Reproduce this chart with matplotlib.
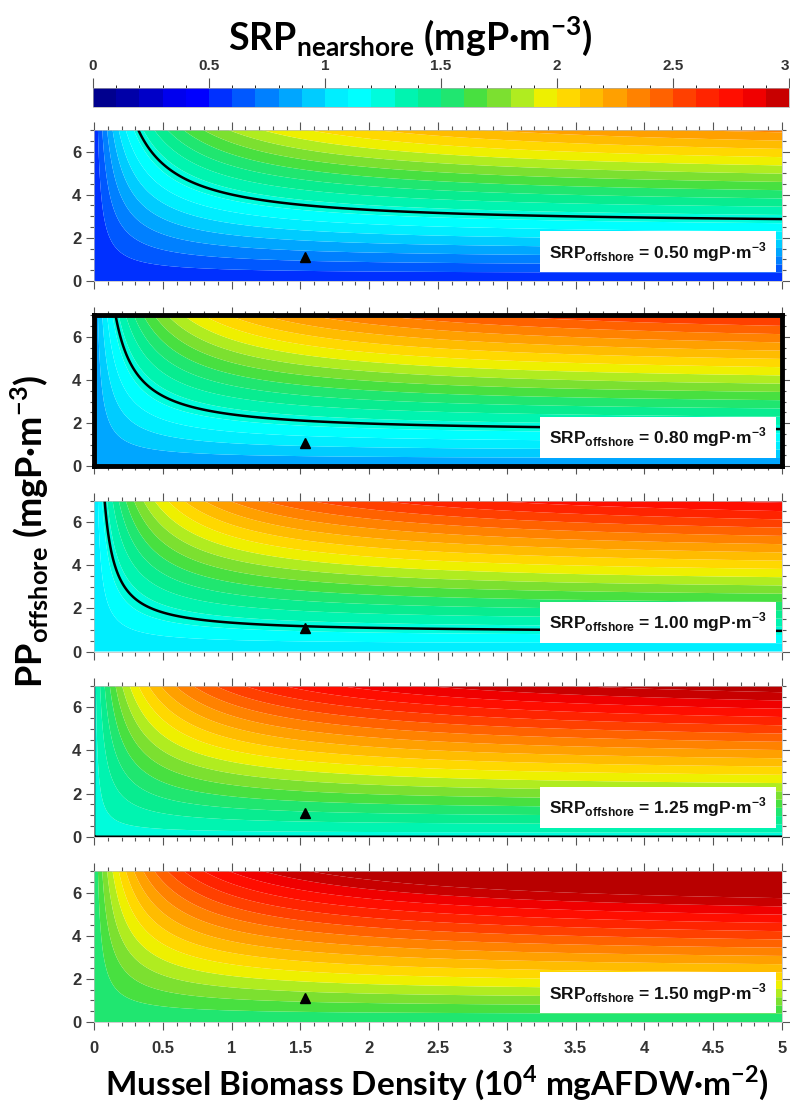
import numpy as np
import matplotlib
matplotlib.use("Agg")
import matplotlib.pyplot as plt
from matplotlib.colors import ListedColormap, BoundaryNorm
from matplotlib.ticker import MultipleLocator, FuncFormatter

plt.rcParams['font.family'] = ['Liberation Sans', 'DejaVu Sans']

# offshore SRP for each scenario panel (mgP m-3)
srp_offshore = [0.50, 0.80, 1.00, 1.25, 1.50]
highlight_panel = 1
# nearshore SRP contour drawn in black
srp_threshold = 1.25

# response surface parameters: SRP gain from mussel recycling of PP
recycle_frac = 0.29      # fraction of offshore PP returned as SRP at saturating biomass
half_sat_biomass = 0.55  # 10^4 mgAFDW m-2

# present-day site conditions
site_biomass = 1.53
site_pp = 1.1

# 0.1 mgP m-3 colour bands, 0 -> 3
band_colors = [
    '#00008E', '#0000A8', '#0000C8', '#0000EE', '#0000FF',
    '#0030FF', '#0058FF', '#0080FF', '#00A6FF', '#00CCFF',
    '#00EEFF', '#00FFFF', '#00FCDC', '#00F4B0', '#08EC90',
    '#20E670', '#48E040', '#7CE030', '#B0EC20', '#EEF000',
    '#FFD800', '#FFBC00', '#FFA000', '#FF8200', '#FF6200',
    '#FF4000', '#FF2400', '#FF0E00', '#F00000', '#C80000',
]
levels = np.round(np.arange(0, 3.01, 0.1), 2)
cbar_ticks = [0, 0.5, 1, 1.5, 2, 2.5, 3]
cbar_ticklabels = ['0', '0.5', '1', '1.5', '2', '2.5', '3']

biomass = np.linspace(0, 5, 401)
pp = np.linspace(0, 7, 281)
B, P = np.meshgrid(biomass, pp)


def srp_nearshore(s_off):
    return s_off + recycle_frac * P * B / (B + half_sat_biomass)


cmap = ListedColormap(band_colors)
cmap.set_over('#B80000')

W, H = 790, 1106
fig = plt.figure(figsize=(W / 100, H / 100), dpi=100)

tick_col = '#555555'
lab_col = '#333333'

ax_left, ax_w, ax_h = 94, 688, 151
first_top, pitch = 130, 185.25

for i, s_off in enumerate(srp_offshore):
    top = first_top + pitch * i
    ax = fig.add_axes([ax_left / W, 1 - (top + ax_h) / H, ax_w / W, ax_h / H])
    Z = srp_nearshore(s_off)
    ax.contourf(B, P, Z, levels=levels, cmap=cmap, extend='max', antialiased=True)
    ax.contour(B, P, Z, levels=[srp_threshold], colors='black', linewidths=1.8)
    ax.plot(site_biomass, site_pp, marker='^', color='black', markersize=6.5,
            linestyle='none')

    ax.set_xlim(0, 5)
    ax.set_ylim(0, 7)
    ax.xaxis.set_major_locator(MultipleLocator(0.5))
    ax.xaxis.set_minor_locator(MultipleLocator(0.1))
    ax.yaxis.set_major_locator(MultipleLocator(2))
    ax.yaxis.set_minor_locator(MultipleLocator(0.5))
    ax.xaxis.set_major_formatter(FuncFormatter(lambda v, _: f'{v:g}'))
    ax.tick_params(which='both', direction='out', top=True, right=True,
                   color=tick_col, width=0.8)
    ax.tick_params(which='major', length=6)
    ax.tick_params(which='minor', length=3)
    ax.tick_params(axis='y', labelsize=12, labelcolor=lab_col, pad=3)
    ax.tick_params(axis='x', labelsize=12, labelcolor=lab_col, pad=8)
    for lab in ax.get_xticklabels() + ax.get_yticklabels():
        lab.set_fontweight('bold')
    if i < len(srp_offshore) - 1:
        ax.tick_params(axis='x', labelbottom=False)

    if i == highlight_panel:
        for sp in ax.spines.values():
            sp.set_linewidth(3.5)
            sp.set_color('black')
    else:
        for sp in ax.spines.values():
            sp.set_linewidth(0.5)
            sp.set_color('#bbbbbb')

    ax.text(0.978, 0.115,
            r'SRP$_{\mathregular{offshore}}$ = ' + f'{s_off:.2f}' + r' mgP·m$^{\mathregular{-3}}$',
            transform=ax.transAxes, ha='right', va='bottom', fontsize=12.5,
            fontweight='bold', color='#111111',
            bbox=dict(boxstyle='square,pad=0.5', fc='white', ec='none'))

# colour scale on top
cax = fig.add_axes([93 / W, 1 - 107 / H, 696 / W, 19 / H])
sm = plt.cm.ScalarMappable(norm=BoundaryNorm(levels, len(band_colors)), cmap=cmap)
cb = fig.colorbar(sm, cax=cax, orientation='horizontal', ticks=cbar_ticks)
cb.ax.set_xticklabels(cbar_ticklabels)
cb.ax.xaxis.set_ticks_position('top')
cb.ax.xaxis.set_label_position('top')
cb.ax.tick_params(length=7, color=tick_col, labelsize=11, labelcolor=lab_col, pad=4)
for lab in cb.ax.get_xticklabels():
    lab.set_fontweight('bold')
cb.ax.get_xticklabels()[-1].set_horizontalalignment('right')
cb.outline.set_linewidth(0.5)
cb.outline.set_edgecolor('#aaaaaa')

big_font = ['Lato', 'DejaVu Sans']
fig.text(410 / W, 1 - 36 / H,
         r'SRP$_{\mathregular{nearshore}}$ (mgP·m$^{\mathregular{-3}}$)',
         ha='center', va='center', fontsize=27, fontweight='bold', family=big_font)
fig.text(437 / W, 1 - 1083 / H,
         r'Mussel Biomass Density (10$^{\mathregular{4}}$ mgAFDW·m$^{\mathregular{-2}}$)',
         ha='center', va='center', fontsize=24, fontweight='bold', family=big_font)
fig.text(30 / W, 1 - 531 / H,
         r'PP$_{\mathregular{offshore}}$ (mgP·m$^{\mathregular{-3}}$)',
         ha='center', va='center', rotation=90, fontsize=26, fontweight='bold',
         family=big_font)

fig.savefig('out.png', dpi=100, facecolor='white')
